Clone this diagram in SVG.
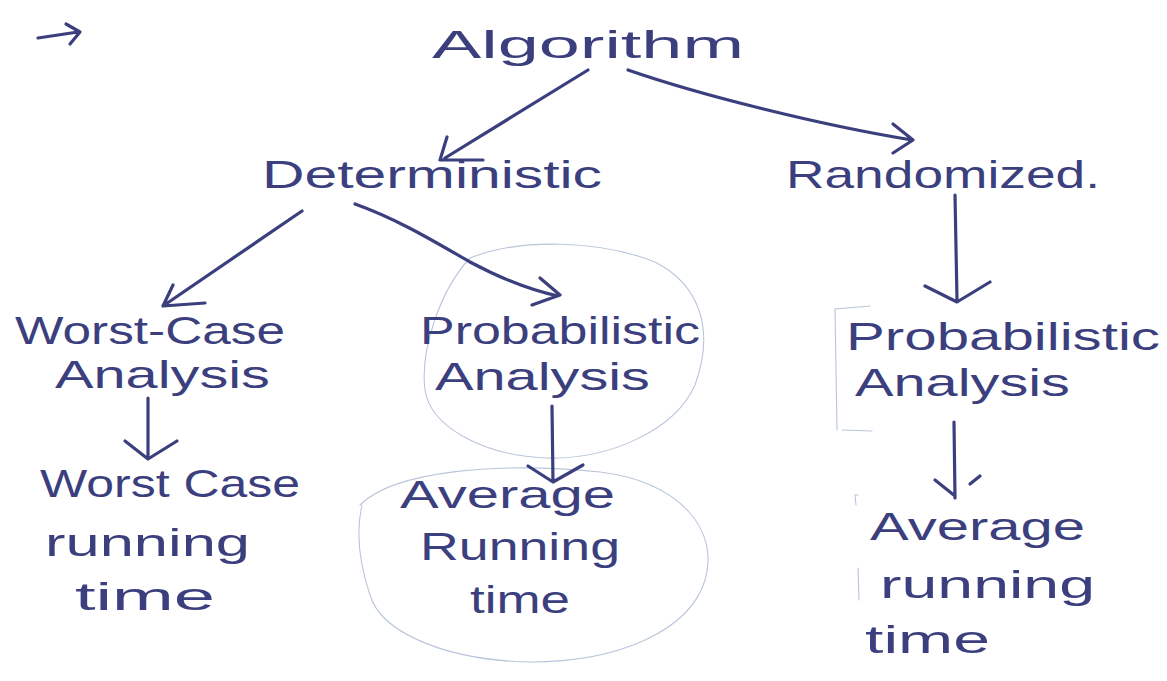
<svg xmlns="http://www.w3.org/2000/svg" width="1167" height="681" viewBox="0 0 1167 681">
<style>
text{font-family:"Liberation Sans",Arial,sans-serif;fill:#3c3f7e;font-size:39px}
.ln{fill:none;stroke:#3c3f7e;stroke-width:3.2;stroke-linecap:round;stroke-linejoin:round}
.faint{fill:none;stroke:#b9c6da;stroke-width:1.1;stroke-linecap:round}
</style>
<rect width="1167" height="681" fill="#ffffff"/>
<g id="decor">
<path class="ln" d="M38 38 L78 32 M66 24 L80 32 L70 44"/>
<path class="faint" d="M470 258 C520 238 600 240 655 262 C700 285 715 330 695 385 C675 430 610 460 545 458 C480 455 430 425 425 390 C420 350 440 290 470 258"/>
<path class="faint" d="M360 505 C395 470 500 462 600 472 C680 482 720 530 705 580 C690 630 620 662 530 662 C440 660 380 630 370 595 C360 565 355 535 362 505"/>
<path class="faint" d="M870 306 L835 309 L837 430 M842 430 L872 431"/>
<path class="faint" d="M858 495 L855 495 L856 505 M858 568 L859 600"/>
</g>
<g id="connectors">
<path class="ln" d="M588 70 L445 158 M447 137 L440 160 L483 160"/>
<path class="ln" d="M628 70 C700 95 820 125 912 140 M893 124 L913 140 L893 153"/>
<path class="ln" d="M302 211 L163 306 M173 285 L163 306 L205 303"/>
<path class="ln" d="M355 204 C400 220 440 245 470 262 C500 278 530 290 558 296 M540 278 L560 295 L532 305"/>
<path class="ln" d="M955 195 L957 300 M925 286 L957 302 L990 282"/>
<path class="ln" d="M148 398 L148 458 M125 441 L148 459 L177 441"/>
<path class="ln" d="M552 406 L553 482 M528 466 L553 482 L583 465"/>
<path class="ln" d="M954 422 L955 498 M935 480 L955 496 M970 484 L980 476"/>
</g>
<g id="n-algorithm"><text x="432" y="58" textLength="312" lengthAdjust="spacingAndGlyphs" font-size="50">Algorithm</text></g>
<g id="n-deterministic"><text x="262" y="188" textLength="340" lengthAdjust="spacingAndGlyphs" font-size="46">Deterministic</text></g>
<g id="n-randomized"><text x="786" y="188" textLength="314" lengthAdjust="spacingAndGlyphs" font-size="46">Randomized.</text></g>
<g id="n-worstcase-analysis">
<text x="15" y="344" textLength="270" lengthAdjust="spacingAndGlyphs">Worst-Case</text>
<text x="55" y="388" textLength="215" lengthAdjust="spacingAndGlyphs">Analysis</text>
</g>
<g id="n-prob-analysis-1">
<text x="420" y="344" textLength="280" lengthAdjust="spacingAndGlyphs">Probabilistic</text>
<text x="435" y="390" textLength="215" lengthAdjust="spacingAndGlyphs">Analysis</text>
</g>
<g id="n-prob-analysis-2">
<text x="846" y="350" textLength="314" lengthAdjust="spacingAndGlyphs">Probabilistic</text>
<text x="855" y="396" textLength="215" lengthAdjust="spacingAndGlyphs">Analysis</text>
</g>
<g id="n-worstcase-time">
<text x="40" y="497" textLength="260" lengthAdjust="spacingAndGlyphs">Worst Case</text>
<text x="45" y="556" textLength="205" lengthAdjust="spacingAndGlyphs">running</text>
<text x="75" y="610" textLength="140" lengthAdjust="spacingAndGlyphs">time</text>
</g>
<g id="n-avg-time-1">
<text x="400" y="508" textLength="215" lengthAdjust="spacingAndGlyphs">Average</text>
<text x="420" y="560" textLength="200" lengthAdjust="spacingAndGlyphs">Running</text>
<text x="470" y="613" textLength="100" lengthAdjust="spacingAndGlyphs">time</text>
</g>
<g id="n-avg-time-2">
<text x="870" y="540" textLength="215" lengthAdjust="spacingAndGlyphs">Average</text>
<text x="880" y="598" textLength="215" lengthAdjust="spacingAndGlyphs">running</text>
<text x="865" y="653" textLength="125" lengthAdjust="spacingAndGlyphs">time</text>
</g>
</svg>
